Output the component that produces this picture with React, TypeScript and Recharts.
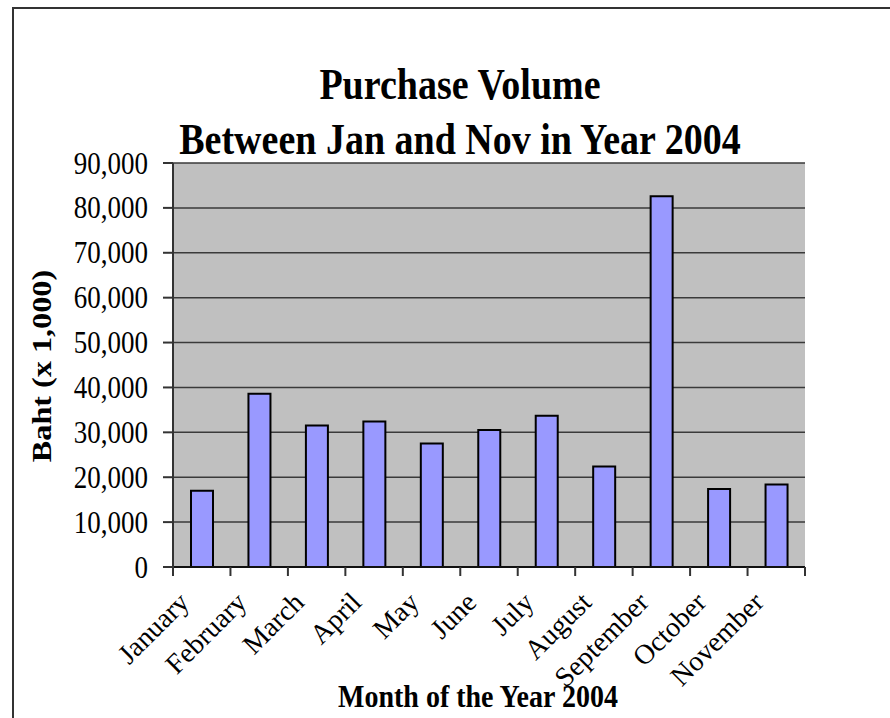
import { Bar, BarChart, CartesianGrid, XAxis, YAxis } from "recharts"

const months = [
  "January",
  "February",
  "March",
  "April",
  "May",
  "June",
  "July",
  "August",
  "September",
  "October",
  "November",
]

// Baht (x 1,000)
const purchases = [17000, 38600, 31500, 32400, 27500, 30500, 33700, 22400, 82600, 17400, 18400]

const yTicks = [0, 10000, 20000, 30000, 40000, 50000, 60000, 70000, 80000, 90000]

const data = months.map((month, i) => ({ month, baht: purchases[i] }))

const serif = "'Liberation Serif', 'Times New Roman', serif"
// the source image is a bit taller than it is wide, text looks stretched
const stretch = 1.15

// label plus the small tick marks, which sit on the band edges like in the spreadsheet original
function MonthTick(props: any) {
  const { x, y, payload, index } = props
  const half = payload && payload.offset ? payload.offset : 0
  const tx = x - 11
  const ty = y + 37
  return (
    <g>
      <line x1={x - half} x2={x - half} y1={y} y2={y + 9} stroke="#333" strokeWidth={2} />
      {index === months.length - 1 && (
        <line x1={x + half} x2={x + half} y1={y} y2={y + 9} stroke="#333" strokeWidth={2} />
      )}
      <text
        transform={`translate(${tx} ${ty}) rotate(-45)`}
        textAnchor="end"
        fontSize={28}
        fontFamily={serif}
        fill="#000"
      >
        {payload.value}
      </text>
    </g>
  )
}

function ValueTick(props: any) {
  const { x, y, payload } = props
  return (
    <text
      transform={`translate(${x} ${y}) scale(1 ${stretch})`}
      textAnchor="end"
      dy="0.34em"
      fontSize={27}
      fontFamily={serif}
      fill="#000"
    >
      {payload.value.toLocaleString("en-US")}
    </text>
  )
}

const titleLine = (top: number): React.CSSProperties => ({
  position: "absolute",
  left: 0,
  width: 920,
  top,
  textAlign: "center",
  fontSize: 38,
  fontWeight: "bold",
  lineHeight: "44px",
  transform: `scaleY(${stretch})`,
})

export default function App() {
  return (
    <div
      style={{
        position: "absolute",
        left: 0,
        top: 0,
        width: 890,
        height: 718,
        overflow: "hidden",
        background: "#fff",
        fontFamily: serif,
      }}
    >
      <div
        style={{
          position: "absolute",
          left: 12,
          top: 7,
          width: 1000,
          height: 1000,
          borderLeft: "2px solid #333",
          borderTop: "2px solid #333",
        }}
      />
      <div style={titleLine(62)}>Purchase Volume</div>
      <div style={titleLine(117)}>Between Jan and Nov in Year 2004</div>
      <div style={{ position: "absolute", left: 0, top: 0 }}>
        <BarChart width={890} height={718} data={data} margin={{ top: 163, right: 85, bottom: 150, left: 0 }}>
          <CartesianGrid vertical={false} fill="#C0C0C0" fillOpacity={1} stroke="#3a3a3a" strokeWidth={1.5} />
          <XAxis
            dataKey="month"
            height={1}
            interval={0}
            tickLine={false}
            axisLine={{ stroke: "#111", strokeWidth: 2 }}
            tickSize={0}
            tickMargin={0}
            tick={(p: any) => <MonthTick {...p} />}
          />
          <YAxis
            width={173}
            domain={[0, 90000]}
            ticks={yTicks}
            interval={0}
            tickSize={10}
            tickMargin={15}
            tick={(p: any) => <ValueTick {...p} />}
            tickLine={{ stroke: "#333", strokeWidth: 2 }}
            axisLine={{ stroke: "#333", strokeWidth: 2 }}
          />
          <YAxis
            yAxisId="frame"
            orientation="right"
            width={0}
            domain={[0, 1]}
            tick={false}
            tickLine={false}
            axisLine={{ stroke: "#888", strokeWidth: 2 }}
          />
          <Bar dataKey="baht" fill="#9999FF" stroke="#000" strokeWidth={2} barSize={22} isAnimationActive={false} />
        </BarChart>
      </div>
      <div
        style={{
          position: "absolute",
          left: 42,
          top: 366,
          whiteSpace: "nowrap",
          fontSize: 28,
          fontWeight: "bold",
          lineHeight: "32px",
          transform: `translate(-50%, -50%) scaleY(${stretch}) rotate(-90deg)`,
        }}
      >
        Baht (x 1,000)
      </div>
      <div
        style={{
          position: "absolute",
          left: 278,
          width: 400,
          top: 680,
          textAlign: "center",
          fontSize: 28,
          fontWeight: "bold",
          lineHeight: "34px",
          transform: `scaleY(${stretch})`,
        }}
      >
        Month of the Year 2004
      </div>
    </div>
  )
}
